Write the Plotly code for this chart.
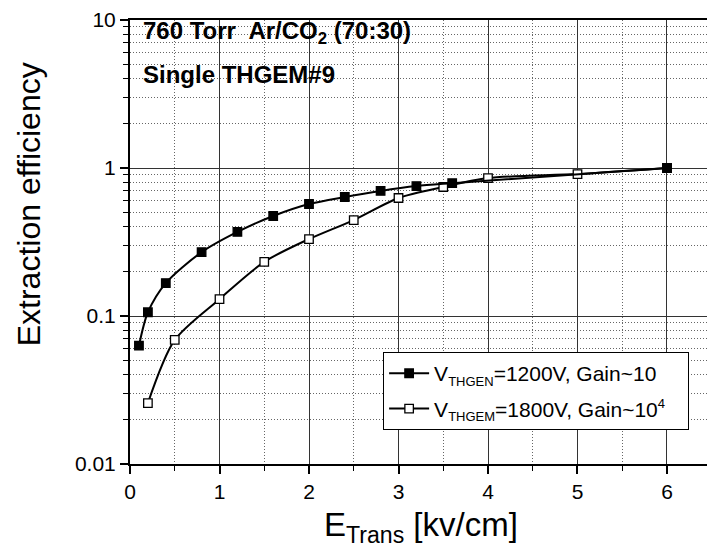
import plotly.graph_objects as go

# Data
x_1200 = [0.1, 0.2, 0.4, 0.8, 1.2, 1.6, 2.0, 2.4, 2.8, 3.2, 3.6, 6.0]
y_1200 = [0.063, 0.106, 0.167, 0.27, 0.37, 0.474, 0.571, 0.637, 0.70, 0.755, 0.79, 1.0]

x_1800 = [0.2, 0.5, 1.0, 1.5, 2.0, 2.5, 3.0, 3.5, 4.0, 5.0, 6.0]
y_1800 = [0.0258, 0.0689, 0.130, 0.232, 0.331, 0.445, 0.627, 0.744, 0.855, 0.91, 1.0]

name_1200 = "V<sub><span style='font-size:13px'>THGEN</span></sub>=1200V, Gain~10"
name_1800 = ("V<sub><span style='font-size:13px'>THGEM</span></sub>=1800V, Gain~10"
             "<sup><span style='font-size:13px'>4</span></sup>&nbsp;&nbsp;&nbsp;")

x_ticks = [0, 1, 2, 3, 4, 5, 6]
x_minor = [0.5, 1.5, 2.5, 3.5, 4.5, 5.5, 6.5]
y_ticks = [0.01, 0.1, 1, 10]
y_ticktext = ["0.01", "0.1", "1", "10"]
y_minor = [m * 10.0 ** k for k in (-2, -1, 0) for m in range(2, 10)]

FONT = "Arial, Liberation Sans, sans-serif"

fig = go.Figure()
fig.add_trace(go.Scatter(
    x=x_1800, y=y_1800, mode="lines+markers", name=name_1800,
    legendrank=2, legendgroup="b",
    line=dict(color="black", width=2, shape="spline", smoothing=0.8),
    marker=dict(symbol="square", size=8.5, color="white", line=dict(color="black", width=1.3)),
))
fig.add_trace(go.Scatter(
    x=x_1200, y=y_1200, mode="lines+markers", name=name_1200,
    legendrank=1, legendgroup="a",
    line=dict(color="black", width=2, shape="spline", smoothing=0.8),
    marker=dict(symbol="square", size=8.5, color="black", line=dict(color="black", width=1.3)),
))

grid_major = "#333"
grid_minor = "#666"

fig.update_layout(
    width=707, height=553,
    margin=dict(l=130, r=0, t=20, b=89),
    paper_bgcolor="white", plot_bgcolor="white",
    font=dict(family=FONT, color="black"),
    showlegend=True,
    legend=dict(
        x=0.969, y=0.252, xanchor="right", yanchor="top",
        bgcolor="white", bordercolor="black", borderwidth=1,
        font=dict(size=21, family=FONT),
        itemwidth=40, tracegroupgap=5,
    ),
    xaxis=dict(
        range=[0, 6.447], tickmode="array", tickvals=x_ticks,
        ticks="outside", ticklen=8, tickwidth=1.5, tickcolor="black",
        showline=True, linecolor="black", linewidth=2, mirror=True,
        showgrid=True, gridcolor=grid_major, gridwidth=1,
        minor=dict(tickmode="array", tickvals=x_minor, ticks="outside", ticklen=5,
                   tickcolor="black", tickwidth=1.2,
                   showgrid=True, gridcolor=grid_minor, griddash="1px,2px", gridwidth=1),
        tickfont=dict(size=21, family=FONT),
        zeroline=False,
    ),
    yaxis=dict(
        type="log", range=[-2, 1],
        tickmode="array", tickvals=y_ticks, ticktext=y_ticktext,
        ticks="outside", ticklen=8, tickwidth=1.5, tickcolor="black",
        showline=True, linecolor="black", linewidth=2, mirror=False,
        showgrid=True, gridcolor=grid_major, gridwidth=1,
        minor=dict(tickmode="array", tickvals=y_minor, ticks="outside", ticklen=5,
                   tickcolor="black", tickwidth=1.2,
                   showgrid=True, gridcolor=grid_minor, griddash="1px,2px", gridwidth=1),
        tickfont=dict(size=21, family=FONT),
        zeroline=False,
    ),
    annotations=[
        dict(text="<b>760 Torr  Ar/CO<sub>2</sub> (70:30)</b>", x=0.019, y=1.011,
             xref="paper", yref="paper", xanchor="left", yanchor="top",
             showarrow=False, font=dict(size=24, family=FONT)),
        dict(text="<b>Single THGEM#9</b>", x=0.019, y=0.912,
             xref="paper", yref="paper", xanchor="left", yanchor="top",
             showarrow=False, font=dict(size=24, family=FONT)),
        dict(text="Extraction efficiency", x=-0.175, y=0.585, textangle=-90,
             xref="paper", yref="paper", xanchor="center", yanchor="middle",
             showarrow=False, font=dict(size=32, family=FONT)),
        dict(text="E<sub>Trans</sub> [kv/cm]", x=0.505, y=-0.142,
             xref="paper", yref="paper", xanchor="center", yanchor="middle",
             showarrow=False, font=dict(size=33, family=FONT)),
    ],
)

fig.write_html("out.html")
